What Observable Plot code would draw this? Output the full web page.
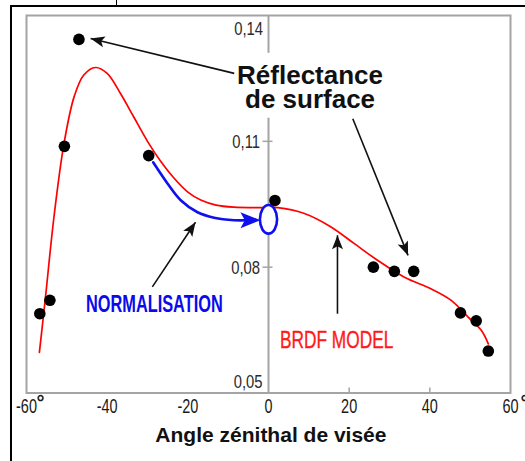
<!DOCTYPE html>
<html><head><meta charset="utf-8">
<script src="https://cdn.jsdelivr.net/npm/d3@7"></script>
<script src="https://cdn.jsdelivr.net/npm/@observablehq/plot@0.6"></script>
<style>
html,body{margin:0;padding:0;background:#fff;}
#wrap{position:relative;width:525px;height:461px;overflow:hidden;background:#fff;}
#wrap svg{position:absolute;left:0;top:0;}
.bl{position:absolute;background:#000;}
</style></head><body>
<div id="wrap">
  <div class="bl" style="left:10px;top:5px;width:2px;height:456px;"></div>
  <div class="bl" style="left:10px;top:5px;width:515px;height:2px;"></div>
  <div class="bl" style="left:116px;top:0px;width:1px;height:5px;"></div>
</div>
<script>
// Observed surface reflectance (black dots)
const obsX = [-56.7, -54.2, -50.6, -47.0, -29.7, 1.6, 26.0, 31.2, 36.0, 47.6, 51.5, 54.5];
const obsY = [0.0689, 0.0721, 0.1088, 0.1343, 0.1066, 0.0959, 0.0800, 0.0790, 0.0790, 0.0691, 0.0672, 0.0600];

// BRDF model curve (red)
const modelX = [-56.8, -55.3, -53.2, -50.7, -48.2, -45.8, -42.9, -40.0, -36.7, -33.4, -30.0, -26.7, -23.4, -20.0, -16.8, -13.0, -8.5, -4.0, 0, 2.3, 8.9, 15.5, 21.3, 27.1, 33.7, 40.4, 45.3, 49.5, 52.8, 54.5];
const modelY = [0.0597, 0.0728, 0.0919, 0.1095, 0.1206, 0.1258, 0.1276, 0.1262, 0.1214, 0.1158, 0.1100, 0.1052, 0.1012, 0.0979, 0.0960, 0.0948, 0.0943, 0.0942, 0.0942, 0.0942, 0.0928, 0.0896, 0.0856, 0.0816, 0.0776, 0.0748, 0.0721, 0.0681, 0.0649, 0.0617];

// Normalisation path (blue) and its target at nadir
const normX = [-28.6, -25.0, -21.7, -17.6, -13.5, -8.5, -5.0];
const normY = [0.1050, 0.0999, 0.0959, 0.0931, 0.0918, 0.0912, 0.0912];
const normTipX = [-2.0];
const normTipY = [0.0912];
const nadirX = [0];
const nadirY = [0.0914];

// Annotation arrows (data coordinates: from -> to)
const arrowX1 = [-8.5, 20.9, -28.8, 17.1];
const arrowY1 = [0.1262, 0.1154, 0.0753, 0.0689];
const arrowX2 = [-44.1, 34.6, -18.1, 17.1];
const arrowY2 = [0.1345, 0.0828, 0.0907, 0.0876];

// Texts and ticks
const labelSurface = ["Réflectance\nde surface"];
const labelNorm = ["NORMALISATION"];
const labelModel = ["BRDF MODEL"];
const xTitle = ["Angle zénithal de visée"];
const xTickLabels = [-60, -40, -20, 0, 20, 40, 60];
const xDegreeTicks = [-60, 60];
const xTickMarks = [20, 40];
const yTickLabels = [0.14, 0.11, 0.08, 0.05];
const yTickMarks = [0.11, 0.08];
const axisSegY1 = [0.05, 0.1310];
const axisSegY2 = [0.1155, 0.14];

const W = 525, H = 461, ML = 26, MR = 15, MT = 15, MB = 68.5;
const xDomain = [-60, 60], yDomain = [0.05, 0.14];
const font = "'Liberation Sans', Arial, Helvetica, sans-serif";

const obs = obsX.map((x, i) => ({x, y: obsY[i]}));
const model = modelX.map((x, i) => ({x, y: modelY[i]}));
const norm = normX.map((x, i) => ({x, y: normY[i]}));
const axisSegs = axisSegY1.map((y1, i) => ({y1, y2: axisSegY2[i]}));

const X = Plot.scale({x: {domain: xDomain, range: [ML, W - MR]}});
const Y = Plot.scale({y: {domain: yDomain, range: [H - MB, MT]}});
const ang = (x1, y1, x2, y2) => Math.atan2(X.apply(x2) - X.apply(x1), -(Y.apply(y2) - Y.apply(y1))) * 180 / Math.PI;

const arrows = arrowX1.map((x1, i) => ({
  x1, y1: arrowY1[i], x2: arrowX2[i], y2: arrowY2[i],
  a: ang(x1, arrowY1[i], arrowX2[i], arrowY2[i])
}));
const last = norm[norm.length - 1];
const normTip = normTipX.map((x, i) => ({x, y: normTipY[i], a: ang(last.x, last.y, x, normTipY[i])}));
const nadir = nadirX.map((x, i) => ({x, y: nadirY[i]}));

const head = (L, Wd) => ({draw(c) {
  c.moveTo(0, 0); c.lineTo(-Wd / 2, L); c.lineTo(0, L * 0.78); c.lineTo(Wd / 2, L); c.closePath();
}});
const ellipse = (rx, ry) => ({draw(c) {
  const k = 0.5523;
  c.moveTo(rx, 0);
  c.bezierCurveTo(rx, ry * k, rx * k, ry, 0, ry);
  c.bezierCurveTo(-rx * k, ry, -rx, ry * k, -rx, 0);
  c.bezierCurveTo(-rx, -ry * k, -rx * k, -ry, 0, -ry);
  c.bezierCurveTo(rx * k, -ry, rx, -ry * k, rx, 0);
  c.closePath();
}});
const vtick = {draw(c) { c.moveTo(0, 0); c.lineTo(0, -5.5); }};
const htick = {draw(c) { c.moveTo(-6, 0); c.lineTo(4, 0); }};
const yFmt = d => d3.format(".2f")(d).replace(".", ",");
const gray = "#a4a4a4";

const chart = Plot.plot({
  width: W, height: H,
  marginLeft: ML, marginRight: MR, marginTop: MT, marginBottom: MB,
  x: {domain: xDomain, axis: null},
  y: {domain: yDomain, axis: null},
  style: {fontFamily: font, background: "white", overflow: "visible"},
  marks: [
    Plot.frame({stroke: gray, strokeWidth: 2}),
    Plot.ruleX(axisSegs, {x: 0, y1: "y1", y2: "y2", stroke: gray, strokeWidth: 2}),
    Plot.dot(xTickMarks, {x: d => d, y: yDomain[0], symbol: vtick, stroke: gray, strokeWidth: 1.5, fill: "none"}),
    Plot.dot(yTickMarks, {x: 0, y: d => d, symbol: htick, stroke: gray, strokeWidth: 1.5, fill: "none"}),
    Plot.line(model, {x: "x", y: "y", curve: "catmull-rom", stroke: "#ff0000", strokeWidth: 1.7}),
    Plot.line(norm, {x: "x", y: "y", curve: "catmull-rom", stroke: "#1010ee", strokeWidth: 2.6}),
    Plot.dot(normTip, {x: "x", y: "y", rotate: "a", symbol: head(20, 16), fill: "#1010ee", stroke: "none"}),
    Plot.dot(nadir, {x: "x", y: "y", symbol: ellipse(8.6, 14.3), fill: "white", stroke: "#1010ee", strokeWidth: 2.6}),
    Plot.dot(obs, {x: "x", y: "y", r: 5.8, fill: "black", stroke: "none"}),
    Plot.link(arrows, {x1: "x1", y1: "y1", x2: "x2", y2: "y2", stroke: "#111", strokeWidth: 1.6}),
    Plot.dot(arrows, {x: "x2", y: "y2", rotate: "a", symbol: head(14, 11), fill: "#111", stroke: "none"}),
    Plot.text(labelSurface, {x: 10.3, y: 0.1227, text: d => d, fontSize: 26, fontWeight: "bold", lineHeight: 0.95, fill: "#111"}),
    Plot.text(labelNorm, {x: -28.3, y: 0.0710, text: d => d, fontSize: 23, fontWeight: "bold", fill: "#0a0aee", ariaDescription: "narrowbold"}),
    Plot.text(labelModel, {x: 16.9, y: 0.0625, text: d => d, fontSize: 24, fill: "#ff1a1a", stroke: "#ff1a1a", strokeWidth: 0.4, ariaDescription: "narrow"}),
    Plot.text(xTitle, {x: 0, frameAnchor: "bottom", dx: 2.4, dy: 49, text: d => d, fontSize: 21, fontWeight: "bold", fill: "#111"}),
    Plot.text(xTickLabels, {x: d => d, frameAnchor: "bottom", dy: 19.6, text: d => String(d), fontSize: 19.5, fill: "#1a1a1a", ariaDescription: "xticks"}),
    Plot.text(xDegreeTicks, {x: d => d, frameAnchor: "bottom", dx: 10, dy: 15.6, textAnchor: "start", text: () => "°", fontSize: 20, fontWeight: "bold", fill: "#1a1a1a"}),
    Plot.text(yTickLabels.filter(d => d === yDomain[1]), {x: 0, y: d => d, dx: -5.5, dy: 14, textAnchor: "end", text: yFmt, fontSize: 18.5, fill: "#2a2a2a", ariaDescription: "yticks"}),
    Plot.text(yTickLabels.filter(d => d > yDomain[0] && d < yDomain[1]), {x: 0, y: d => d, dx: -8.5, dy: 0.8, textAnchor: "end", text: yFmt, fontSize: 18.5, fill: "#2a2a2a", ariaDescription: "yticks"}),
    Plot.text(yTickLabels.filter(d => d === yDomain[0]), {x: 0, y: d => d, dx: -6, dy: -10.7, textAnchor: "end", text: yFmt, fontSize: 18.5, fill: "#2a2a2a", ariaDescription: "yticks"})
  ]
});

const wrap = document.getElementById("wrap");
wrap.insertBefore(chart, wrap.firstChild);

const ratios = {xticks: 0.74, yticks: 0.8, narrow: 0.72, narrowbold: 0.71};
for (const [k, r] of Object.entries(ratios)) {
  chart.querySelectorAll(`g[aria-description="${k}"] text`).forEach(t => {
    const w = t.getComputedTextLength();
    t.setAttribute("textLength", (w * r).toFixed(1));
    t.setAttribute("lengthAdjust", "spacingAndGlyphs");
  });
}
</script>
</body></html>
